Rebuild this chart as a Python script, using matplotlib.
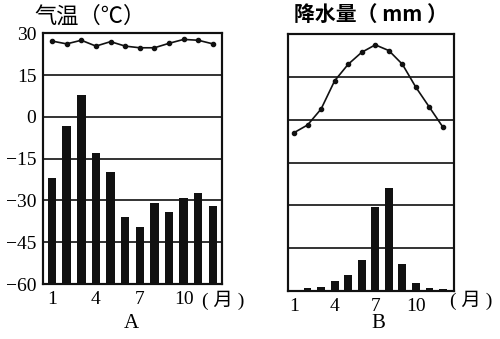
import matplotlib.pyplot as plt
import numpy as np

plt.rcParams['font.family'] = ['Liberation Serif', 'Noto Sans CJK SC', 'DejaVu Sans']

months = np.arange(1, 13)
month_ticks = [1, 4, 7, 10]
temp_ticks = [30, 15, 0, -15, -30, -45, -60]

# A: temperature (C) and precipitation (mm)
temp_a = [27.2, 26.2, 27.5, 25.4, 27.0, 25.4, 24.8, 24.8, 26.4, 27.8, 27.5, 26.2]
rain_a = [253, 379, 453, 313, 267, 161, 137, 195, 173, 207, 217, 187]

# B: temperature (C) and precipitation (mm)
temp_b = [-4.5, -1.8, 3.8, 13.7, 19.5, 23.7, 26.3, 24.3, 19.5, 11.4, 4.4, -2.6]
rain_b = [3, 8, 9, 23, 37, 72, 197, 241, 64, 19, 6, 4]

fig = plt.figure(figsize=(5, 3.39), dpi=100)
fig.patch.set_facecolor('white')


def panel(rect, temp, rain, xlim, show_labels):
    ax = fig.add_axes(rect)
    ax2 = ax.twinx()
    ax2.bar(months, rain, width=0.58, color='#111111', zorder=3)
    ax2.set_ylim(0, 600)
    ax2.set_yticks([])
    ax.plot(months, temp, color='#111111', lw=1.2, marker='o', ms=3.0, zorder=4)
    ax.set_ylim(-60, 30)
    ax.set_xlim(*xlim)
    ax.set_yticks(temp_ticks)
    for t in temp_ticks[1:-1]:
        ax.axhline(t, color='#111111', lw=1.2, zorder=1)
    ax.set_xticks(month_ticks)
    ax.tick_params(length=0, labelsize=14, pad=5)
    if not show_labels:
        ax.set_yticklabels([])
    for a in (ax, ax2):
        for s in a.spines.values():
            s.set_linewidth(1.5)
            s.set_color('#111111')
    return ax


ax_a = panel([0.0866, 0.1622, 0.3567, 0.7396], temp_a, rain_a, (0.4, 12.6), True)
ax_b = panel([0.5766, 0.1416, 0.3314, 0.7572], temp_b, rain_b, (0.58, 12.81), False)

fig.text(0.068, 0.953, '气温（℃）', fontsize=16, ha='left', va='center',
         family=['Noto Sans CJK SC', 'DejaVu Sans'])
fig.text(0.588, 0.957, '降水量（ mm ）', fontsize=15, ha='left', va='center',
         family=['Noto Sans CJK SC', 'DejaVu Sans'], fontweight='bold')
fig.text(0.447, 0.115, '( 月 )', fontsize=14, ha='center', va='center')
fig.text(0.942, 0.115, '( 月 )', fontsize=14, ha='center', va='center')
fig.text(0.263, 0.047, 'A', fontsize=15, ha='center', va='center')
fig.text(0.756, 0.047, 'B', fontsize=15, ha='center', va='center')

fig.savefig('out.png', dpi=100, facecolor='white')
